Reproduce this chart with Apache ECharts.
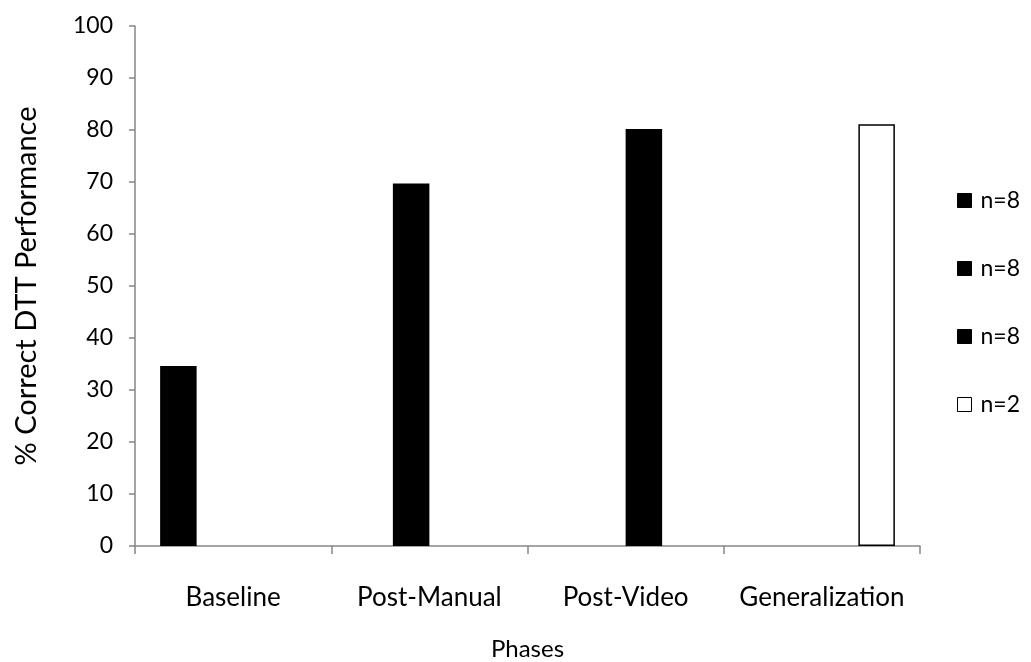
<!DOCTYPE html>
<html>
<head>
<meta charset="utf-8">
<script src="https://cdn.jsdelivr.net/npm/echarts@6/dist/echarts.min.js"></script>
<style>
  html, body { margin: 0; padding: 0; background: #fff; }
  #chart { width: 1031px; height: 662px; }
</style>
</head>
<body>
<div id="chart"></div>
<script>
// Phases of the study and the mean % correct DTT performance in each
const phases = ['Baseline', 'Post-Manual', 'Post-Video', 'Generalization'];
const percentCorrect = [34.6, 69.7, 80.2, 81.1];
const sampleSizes = [8, 8, 8, 2];
const yTicks = { min: 0, max: 100, interval: 10 };

const fills = ['#000000', '#000000', '#000000', '#ffffff'];
const font = 'Lato, "Liberation Sans", sans-serif';

// One series per phase, so each bar holds its own slot in the group
const series = phases.map((phase, i) => ({
  name: phase,
  type: 'bar',
  barGap: '0%',
  barCategoryGap: '25.6%',
  itemStyle: { color: fills[i], borderColor: '#000', borderWidth: i === 3 ? 1.5 : 0 },
  data: phases.map((_, j) => (j === i ? percentCorrect[i] : null))
}));

const chart = echarts.init(document.getElementById('chart'), null, { renderer: 'canvas' });
chart.setOption({
  animation: false,
  backgroundColor: '#fff',
  grid: { left: 135, right: 111, top: 26, bottom: 116, containLabel: false, outerBoundsMode: 'none' },
  legend: {
    orient: 'vertical',
    left: 952,
    top: 184,
    itemWidth: 14,
    itemHeight: 14,
    itemGap: 45,
    icon: 'rect',
    textStyle: { fontFamily: font, fontSize: 23, color: '#000', padding: [0, 0, 0, 4] },
    itemStyle: { borderColor: '#000', borderWidth: 1 },
    data: phases,
    formatter: name => 'n=' + sampleSizes[phases.indexOf(name)]
  },
  xAxis: {
    type: 'category',
    data: phases,
    name: 'Phases',
    nameLocation: 'middle',
    nameGap: 91,
    nameTextStyle: { fontFamily: font, fontSize: 24, color: '#000' },
    axisLine: { lineStyle: { color: '#868686', width: 1.5 } },
    axisTick: { show: true, length: 8, interval: 0, lineStyle: { color: '#868686', width: 1.5 } },
    axisLabel: { fontFamily: font, fontSize: 26, color: '#000', margin: 39, interval: 0 }
  },
  yAxis: {
    type: 'value',
    min: yTicks.min,
    max: yTicks.max,
    interval: yTicks.interval,
    name: '% Correct DTT Performance',
    nameLocation: 'middle',
    nameGap: 94,
    nameTextStyle: { fontFamily: font, fontSize: 29, color: '#000' },
    splitLine: { show: false },
    axisLine: { show: true, lineStyle: { color: '#868686', width: 1.5 } },
    axisTick: { show: true, length: 6, lineStyle: { color: '#868686', width: 1.5 } },
    axisLabel: { fontFamily: font, fontSize: 23, color: '#000', margin: 22 }
  },
  series: series
});
</script>
</body>
</html>
